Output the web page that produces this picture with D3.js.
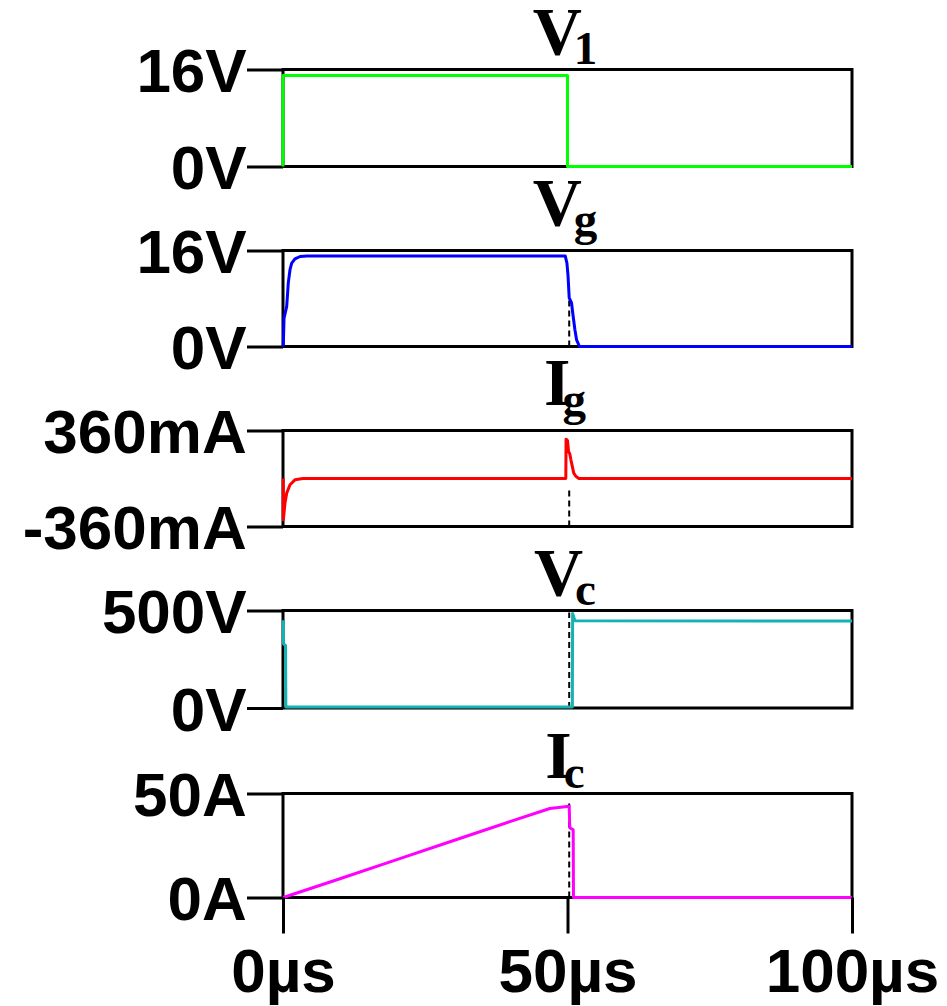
<!DOCTYPE html>
<html>
<head>
<meta charset="utf-8">
<script src="https://cdn.jsdelivr.net/npm/d3@7"></script>
<style>
  html, body { margin: 0; padding: 0; background: #ffffff; }
  svg { display: block; }
</style>
</head>
<body>
<svg id="chart" width="947" height="1006"></svg>
<script>
// Time axis (µs)
const timeTicks = [0, 50, 100];
const timeTickLabels = ["0µs", "50µs", "100µs"];

// Panel titles: [main letter, subscript]
const panelTitles = [["V", "1"], ["V", "g"], ["I", "g"], ["V", "c"], ["I", "c"]];

// Y-axis ticks per panel
const v1Ticks = [0, 16];        const v1TickLabels = ["0V", "16V"];
const vgTicks = [0, 16];        const vgTickLabels = ["0V", "16V"];
const igTicks = [-360, 360];    const igTickLabels = ["-360mA", "360mA"];
const vcTicks = [0, 500];       const vcTickLabels = ["0V", "500V"];
const icTicks = [0, 50];        const icTickLabels = ["0A", "50A"];

// Waveforms as [time µs, value]
const v1Wave = [[0, 0], [0, 15], [50, 15], [50, 0], [100, 0]];

const vgWave = [[0.05, 0], [0.18, 4.7], [0.65, 6.7], [0.93, 10.6], [1.23, 12.8],
  [1.53, 13.9], [2.1, 14.6], [3.0, 15.0], [4.2, 15.1], [49.6, 15.1],
  [49.9, 13.9], [50.1, 11.7], [50.3, 8.1], [50.7, 7.3], [51.0, 5.0],
  [51.3, 2.8], [51.6, 1.1], [52.1, 0], [100, 0]];

const igWave = [[0.05, 0], [0.06, -310], [0.35, -184], [0.65, -110], [1.23, -47],
  [2.1, -10], [3.5, 0], [49.7, 0], [49.75, 295], [50.0, 285], [50.2, 200],
  [50.4, 185], [50.6, 140], [50.9, 80], [51.1, 40], [51.5, 15], [52.0, 0], [100, 0]];

const vcWave = [[0.05, 450], [0.06, 330], [0.45, 320], [0.5, 5], [50.85, 5],
  [50.9, 485], [51.3, 448], [100, 446]];

const icWave = [[0.05, 0], [10, 9.0], [20, 18.2], [30, 27.4], [40, 36.6], [46.9, 42.8],
  [50.3, 43.9], [50.4, 33.5], [51.0, 32.5], [51.05, 0], [100, 0]];

// Dashed marker at the turn-off instant: [time, from value, to value]
const markerTime = 50.3;
const vgMarker = [0, 7.8];
const igMarker = [-360, -60];
const vcMarker = [0, 490];
const icMarker = [0, 45.2];

const colors = ["#00ff00", "#0000ff", "#ff0000", "#13b3b3", "#ff00ff"];

const panels = [
  { ticks: v1Ticks, labels: v1TickLabels, wave: v1Wave, marker: null },
  { ticks: vgTicks, labels: vgTickLabels, wave: vgWave, marker: vgMarker },
  { ticks: igTicks, labels: igTickLabels, wave: igWave, marker: igMarker },
  { ticks: vcTicks, labels: vcTickLabels, wave: vcWave, marker: vcMarker },
  { ticks: icTicks, labels: icTickLabels, wave: icWave, marker: icMarker }
];

// Layout
const plotLeft = 283, plotRight = 852;
const panelTops = [69.5, 250.5, 430.5, 610.5, 793.5];
const panelBottoms = [166.5, 346.5, 526.5, 708, 897.5];
const tickLen = 36;

const svg = d3.select("#chart");
const x = d3.scaleLinear().domain([0, 100]).range([plotLeft, plotRight]);

const labelFont = "'Liberation Sans', Arial, sans-serif";
const titleFont = "'Liberation Serif', 'Times New Roman', serif";

panels.forEach((p, i) => {
  const top = panelTops[i], bottom = panelBottoms[i];
  const y = d3.scaleLinear().domain(d3.extent(p.ticks)).range([bottom, top]);
  const g = svg.append("g");

  // Frame
  g.append("rect")
    .attr("x", plotLeft).attr("y", top)
    .attr("width", plotRight - plotLeft).attr("height", bottom - top)
    .attr("fill", "none").attr("stroke", "#000").attr("stroke-width", 3);

  // Left axis
  const axis = d3.axisLeft(y)
    .tickValues(p.ticks)
    .tickSize(tickLen)
    .tickFormat((d, k) => p.labels[k]);
  const ag = g.append("g").attr("transform", `translate(${plotLeft},0)`).call(axis);
  ag.select(".domain").remove();
  ag.selectAll(".tick line").attr("stroke", "#000").attr("stroke-width", 3);
  ag.selectAll(".tick text")
    .attr("x", -tickLen - 0.3)
    .attr("dy", "0.36em")
    .attr("fill", "#000")
    .style("font-family", labelFont)
    .style("font-weight", "bold")
    .style("font-size", "62px");

  // Dashed marker
  if (p.marker) {
    g.append("line")
      .attr("x1", x(markerTime)).attr("x2", x(markerTime))
      .attr("y1", y(p.marker[0])).attr("y2", y(p.marker[1]))
      .attr("stroke", "#000").attr("stroke-width", 2)
      .attr("stroke-dasharray", "6,4");
  }

  // Waveform
  const line = d3.line().x(d => x(d[0])).y(d => y(d[1]));
  g.append("path")
    .datum(p.wave)
    .attr("d", line)
    .attr("fill", "none")
    .attr("stroke", colors[i])
    .attr("stroke-width", 3)
    .attr("stroke-linejoin", "round");

  // Title with subscript
  const [mainChar, subChar] = panelTitles[i];
  const hasDescender = /[gjpqy]/.test(subChar);
  const subBase = top - (hasDescender ? 16 : 6);
  const mainBase = subBase - 10;
  const t = svg.append("text")
    .attr("x", 565).attr("y", mainBase)
    .attr("text-anchor", "middle")
    .attr("fill", "#000")
    .style("font-family", titleFont)
    .style("font-weight", "bold");
  t.append("tspan").text(mainChar).style("font-size", "68px");
  t.append("tspan").text(subChar)
    .attr("dx", -8).attr("dy", 10)
    .style("font-size", "47px");
});

// Time axis under the last panel
const lastBottom = panelBottoms[panelBottoms.length - 1];
const xAxis = d3.axisBottom(x)
  .tickValues(timeTicks)
  .tickSize(tickLen)
  .tickFormat((d, k) => timeTickLabels[k]);
const xg = svg.append("g").attr("transform", `translate(0,${lastBottom})`).call(xAxis);
xg.select(".domain").remove();
xg.selectAll(".tick line").attr("stroke", "#000").attr("stroke-width", 3);
xg.selectAll(".tick text")
  .attr("y", 992 - lastBottom)
  .attr("dy", 0)
  .attr("fill", "#000")
  .style("font-family", labelFont)
  .style("font-weight", "bold")
  .style("font-size", "62px");
</script>
</body>
</html>
